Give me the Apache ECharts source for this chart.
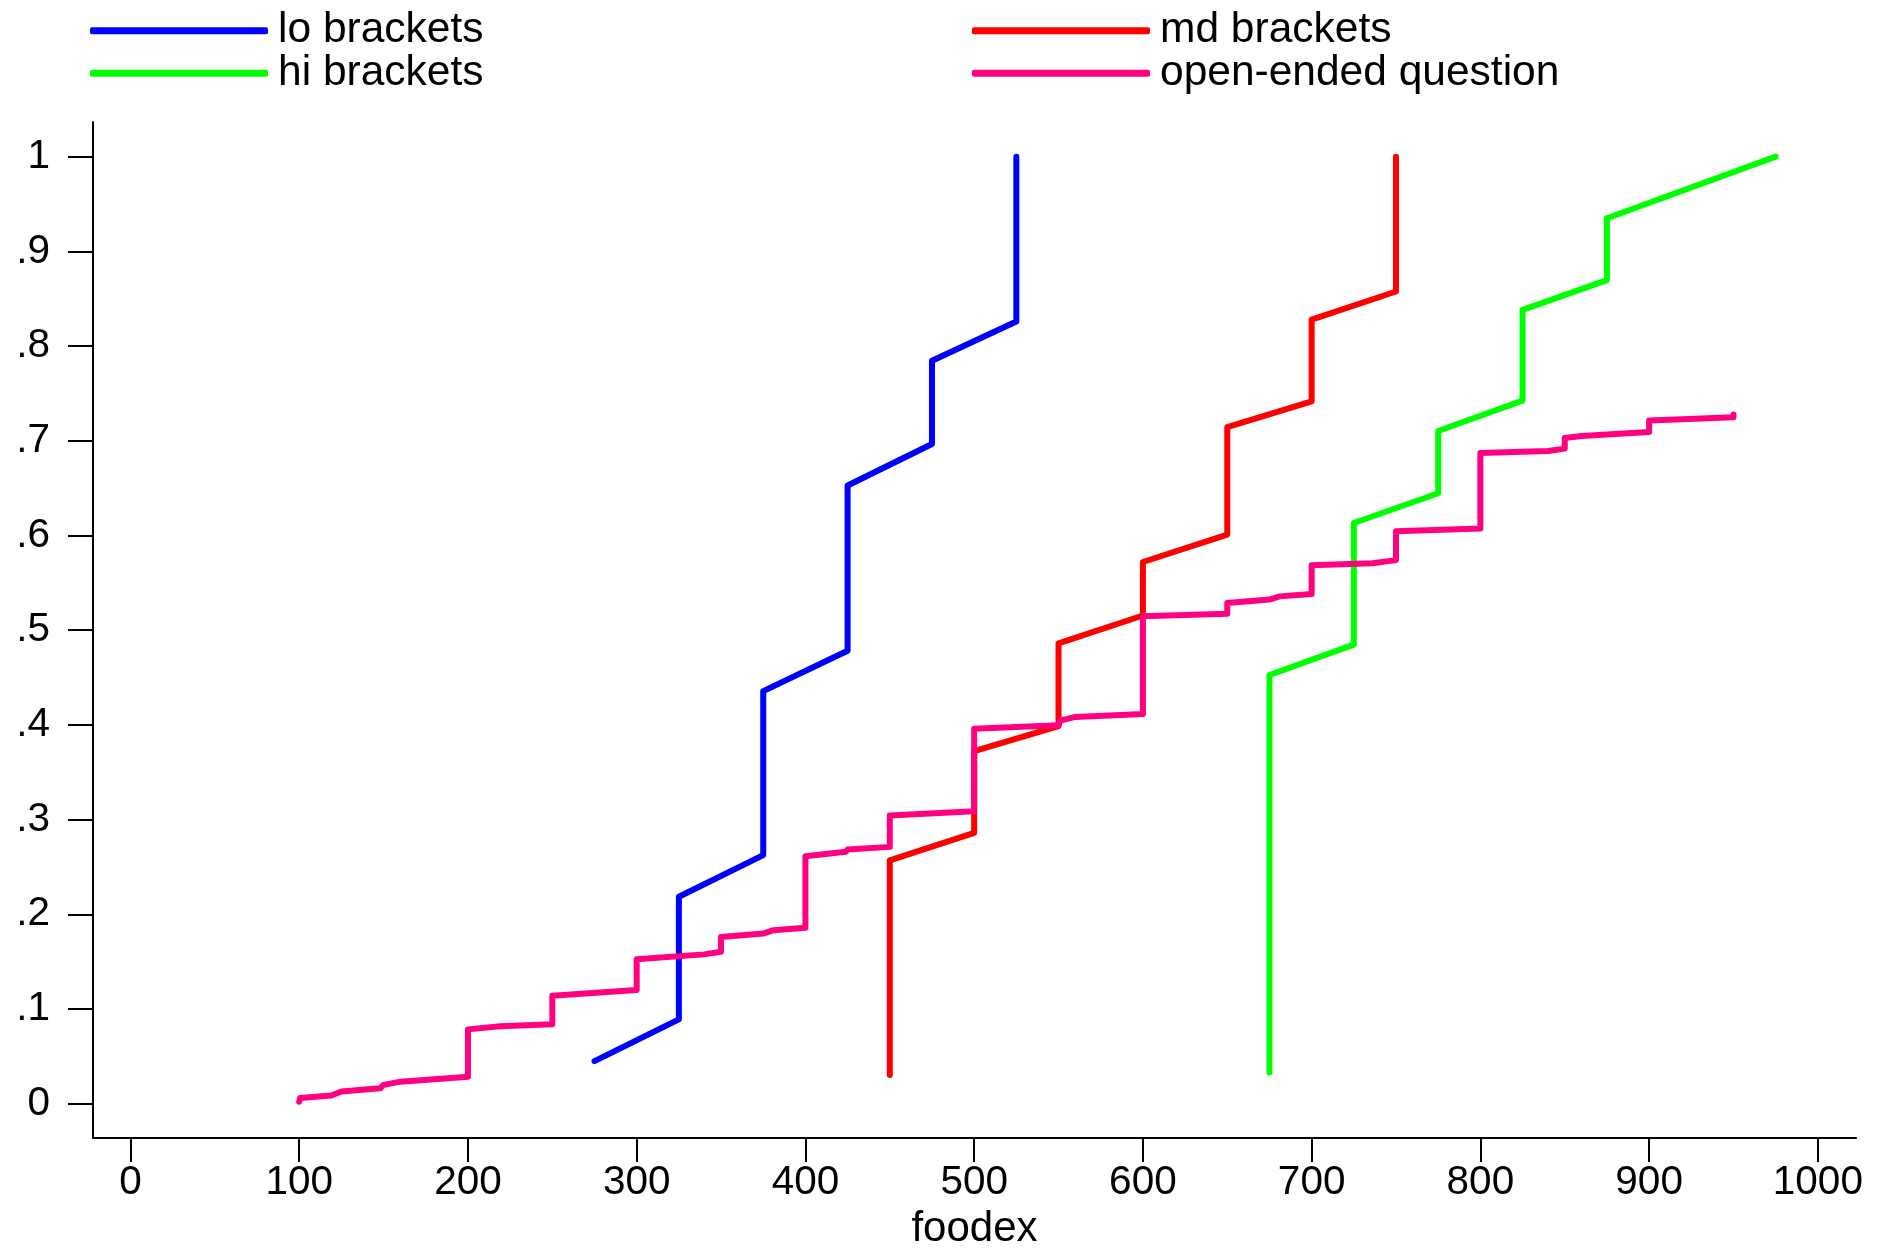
<!DOCTYPE html>
<html>
<head>
<meta charset="utf-8">
<script src="https://cdn.jsdelivr.net/npm/echarts@6/dist/echarts.min.js"></script>
<style>
  html, body { margin: 0; padding: 0; background: #ffffff; overflow: hidden; }
  #chart { width: 1879px; height: 1255px; }
</style>
</head>
<body>
<div id="chart"></div>
<script>
// ---- data ----
const seriesNames = ['lo brackets', 'md brackets', 'hi brackets', 'open-ended question'];
const seriesColors = ['#0000FF', '#FF0000', '#00FF00', '#FF0080'];

const loX = [275, 325, 325, 375, 375, 425, 425, 475, 475, 525, 525];
const loY = [0.045, 0.089, 0.2186, 0.2625, 0.4357, 0.4783, 0.6528, 0.6966, 0.7845, 0.826, 1.0];

const mdX = [450, 450, 500, 500, 550, 550, 600, 600, 650, 650, 700, 700, 750, 750];
const mdY = [0.0304, 0.257, 0.2859, 0.3724, 0.3986, 0.486, 0.5155, 0.572, 0.601, 0.7145, 0.7417, 0.828, 0.8576, 1.0];

const hiX = [675, 675, 725, 725, 775, 775, 825, 825, 875, 875, 975];
const hiY = [0.0329, 0.4527, 0.4848, 0.6132, 0.6446, 0.7103, 0.7424, 0.8383, 0.8697, 0.935, 1.0];

const openX = [100, 100.5, 119, 125, 148, 150, 160, 200, 200, 219, 250, 250, 300, 300, 340, 350, 350,
  375, 381, 400, 400, 424, 425, 450, 450, 500, 500, 550, 551, 560, 600, 600, 650, 650, 675, 681,
  700, 700, 736, 750, 750, 800, 800, 840, 850, 850, 860, 900, 900, 950, 950];
const openY = [0.002, 0.006, 0.0087, 0.0129, 0.0163, 0.0199, 0.0233, 0.0286, 0.0785, 0.0817, 0.0838,
  0.114, 0.120, 0.1525, 0.1577, 0.1605, 0.176, 0.1797, 0.1832, 0.1857, 0.2614, 0.266, 0.2684,
  0.2712, 0.3043, 0.3089, 0.396, 0.3996, 0.4045, 0.4084, 0.4115, 0.5148, 0.5173, 0.5288, 0.5323,
  0.5357, 0.5382, 0.5686, 0.5707, 0.574, 0.6045, 0.6073, 0.6872, 0.6893, 0.6917, 0.703, 0.705,
  0.7092, 0.7215, 0.7249, 0.7278];

const xTickValues = [0, 100, 200, 300, 400, 500, 600, 700, 800, 900, 1000];
const xTickLabels = ['0', '100', '200', '300', '400', '500', '600', '700', '800', '900', '1000'];
const yTickValues = [0, 0.1, 0.2, 0.3, 0.4, 0.5, 0.6, 0.7, 0.8, 0.9, 1];
const yTickLabels = ['0', '.1', '.2', '.3', '.4', '.5', '.6', '.7', '.8', '.9', '1'];
const xTitle = 'foodex';

// ---- build ----
function zip(xs, ys) { return xs.map((x, i) => [x, ys[i]]); }
const allData = [zip(loX, loY), zip(mdX, mdY), zip(hiX, hiY), zip(openX, openY)];

function labelFor(values, labels) {
  return function (v) {
    for (let i = 0; i < values.length; i++) {
      if (Math.abs(values[i] - v) < 1e-9) return labels[i];
    }
    return '';
  };
}

const FONT = "'Liberation Sans', Arial, Helvetica, sans-serif";

function makeLegend(name, left, top) {
  return {
    data: [name],
    left: left,
    top: top,
    orient: 'horizontal',
    icon: 'roundRect',
    itemWidth: 178,
    itemHeight: 7,
    selectedMode: false,
    padding: 0,
    textStyle: {
      fontFamily: FONT,
      fontSize: 42.5,
      lineHeight: 42,
      color: '#000000',
      padding: [0, 0, 10, 5]
    }
  };
}

const chart = echarts.init(document.getElementById('chart'), null, { renderer: 'canvas' });
chart.setOption({
  animation: false,
  backgroundColor: '#ffffff',
  legend: [
    makeLegend(seriesNames[0], 90, 4.7),
    makeLegend(seriesNames[1], 972, 4.7),
    makeLegend(seriesNames[2], 90, 47.3),
    makeLegend(seriesNames[3], 972, 47.3)
  ],
  grid: { left: 93, right: 23, top: 122, bottom: 108, containLabel: false },
  xAxis: {
    type: 'value',
    min: -22.2,
    max: 1022.6,
    name: xTitle,
    nameLocation: 'middle',
    nameGap: 64,
    nameTextStyle: { fontFamily: FONT, fontSize: 42, color: '#000000' },
    axisLine: { show: true, onZero: false, lineStyle: { color: '#000000', width: 2 } },
    axisTick: { show: true, inside: false, length: 24, customValues: xTickValues,
      lineStyle: { color: '#000000', width: 2 } },
    axisLabel: { show: true, margin: 24, customValues: xTickValues,
      formatter: labelFor(xTickValues, xTickLabels),
      fontFamily: FONT, fontSize: 40.5, color: '#000000' },
    splitLine: { show: false }
  },
  yAxis: {
    type: 'value',
    min: -0.0363,
    max: 1.0366,
    axisLine: { show: true, onZero: false, lineStyle: { color: '#000000', width: 2 } },
    axisTick: { show: true, inside: false, length: 25, customValues: yTickValues,
      lineStyle: { color: '#000000', width: 2 } },
    axisLabel: { show: true, margin: 43, customValues: yTickValues,
      formatter: labelFor(yTickValues, yTickLabels),
      padding: [8, 0, 0, 0],
      fontFamily: FONT, fontSize: 40.5, color: '#000000' },
    splitLine: { show: false }
  },
  series: allData.map((d, i) => ({
    name: seriesNames[i],
    type: 'line',
    data: d,
    showSymbol: false,
    symbol: 'none',
    color: seriesColors[i],
    lineStyle: { color: seriesColors[i], width: 6, cap: 'round', join: 'round' },
    itemStyle: { color: seriesColors[i] },
    emphasis: { disabled: true }
  }))
});
</script>
</body>
</html>
